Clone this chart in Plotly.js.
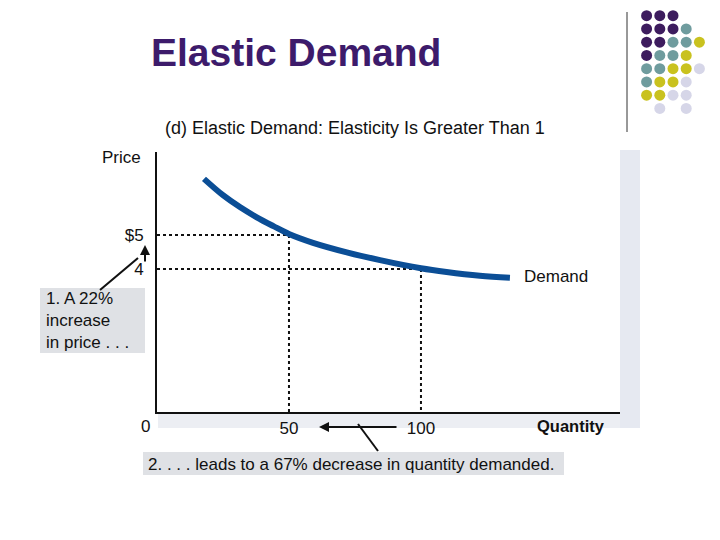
<!DOCTYPE html>
<html>
<head>
<meta charset="utf-8">
<script src="https://cdn.plot.ly/plotly-3.0.1.min.js"></script>
<style>html,body{margin:0;padding:0;background:#fff;}#chart{width:720px;height:540px;}</style>
</head>
<body>
<div id="chart"></div>
<script>
// ---- data ----
const demandQ = [17.8, 25.0, 31.4, 37.8, 44.1, 50.0, 59.1, 71.9, 84.5, 100.0, 109.7, 122.3, 133.7];
const demandP = [6.65, 6.17, 5.82, 5.52, 5.26, 5.03, 4.77, 4.49, 4.26, 4.02, 3.91, 3.80, 3.74];
const refQ = [50, 100];
const refP = [5, 4];
const xTickVals = [50, 100];
const xTickText = ["50", "100"];
const yTickVals = [5, 4];
const yTickText = ["$5", "4"];

// decorative dot grid (row, col, colour key)
const dotRows = [0,0,0, 1,1,1,1, 2,2,2,2,2, 3,3,3,3, 4,4,4,4,4, 5,5,5,5, 6,6,6,6, 7,7];
const dotCols = [0,1,2, 0,1,2,3, 0,1,2,3,4, 0,1,2,3, 0,1,2,3,4, 0,1,2,3, 0,1,2,3, 1,3];
const dotKeys = ["P","P","P", "P","P","P","T", "P","P","T","T","Y", "P","T","T","Y",
                 "T","T","Y","Y","L", "T","Y","Y","L", "Y","Y","L","L", "L","L"];
const dotPalette = {P: "#3d1c5e", T: "#6f9c9e", Y: "#c9c21f", L: "#d6d6e8"};

// ---- layout helpers (pixel -> paper) ----
const W = 720, H = 540;
const px = v => v / W;
const py = v => 1 - v / H;
const yMin = -0.206, yMax = 7.44;
const FONT = "Liberation Sans, Arial, sans-serif";
const FS = 17;

const traces = [];
// reference dotted lines
refQ.forEach((q, i) => {
  traces.push({
    x: [0, q, q], y: [refP[i], refP[i], yMin],
    mode: "lines", type: "scatter",
    line: {color: "#111", width: 2, dash: "dot"},
    hoverinfo: "skip", showlegend: false, cliponaxis: false
  });
});
// demand curve
traces.push({
  x: demandQ, y: demandP, mode: "lines", type: "scatter",
  line: {color: "#0b4e96", width: 6, shape: "spline", smoothing: 1},
  showlegend: false
});
// dot grid
traces.push({
  x: dotCols, y: dotRows, mode: "markers", type: "scatter",
  xaxis: "x2", yaxis: "y2",
  marker: {size: 11, color: dotKeys.map(k => dotPalette[k])},
  hoverinfo: "skip", showlegend: false
});

const shapes = [
  {type: "rect", xref: "paper", yref: "paper", x0: px(620), x1: px(640), y0: py(428), y1: py(150),
   fillcolor: "#e6e9f1", line: {width: 0}, layer: "below"},
  {type: "rect", xref: "paper", yref: "paper", x0: px(158), x1: px(620), y0: py(428), y1: py(412),
   fillcolor: "#eceef3", line: {width: 0}, layer: "below"},
  {type: "rect", xref: "paper", yref: "paper", x0: px(40), x1: px(145), y0: py(353), y1: py(288),
   fillcolor: "#dfe1e5", line: {width: 0}},
  {type: "rect", xref: "paper", yref: "paper", x0: px(143), x1: px(564), y0: py(475), y1: py(452),
   fillcolor: "#dfe1e5", line: {width: 0}},
  {type: "line", xref: "paper", yref: "paper", x0: px(100), y0: py(290), x1: px(138), y1: py(258),
   line: {color: "#111", width: 2}},
  {type: "line", xref: "paper", yref: "paper", x0: px(378), y0: py(451), x1: px(358), y1: py(424),
   line: {color: "#111", width: 2}},
  {type: "line", xref: "paper", yref: "paper", x0: px(627), y0: py(12), x1: px(627), y1: py(132),
   line: {color: "#333", width: 1}}
];

const ann = (x, y, text, opts = {}) => Object.assign({
  xref: "paper", yref: "paper", x: px(x), y: py(y), text: text, showarrow: false,
  xanchor: "center", yanchor: "middle",
  font: {family: FONT, size: FS, color: "#111"}
}, opts);

const annotations = [
  ann(296, 52, "<b>Elastic Demand</b>", {font: {family: FONT, size: 39, color: "#3d1b6b"}}),
  ann(355, 128, "(d) Elastic Demand: Elasticity Is Greater Than 1", {font: {family: FONT, size: 18, color: "#111"}}),
  ann(143, 157, "Price", {xanchor: "right"}),
  ann(607, 426, "<b>Quantity</b>", {xanchor: "right", font: {family: FONT, size: 16.5, color: "#111"}}),
  ann(522, 276, "Demand", {xanchor: "left"}),
  ann(145, 426, "0"),
  ann(44, 320, "1. A 22%<br>increase<br>in price . . .", {xanchor: "left", align: "left"}),
  ann(146, 464, "2. . . . leads to a 67% decrease in quantity demanded.", {xanchor: "left"}),
  {xref: "paper", yref: "paper", x: px(145), y: py(245), ax: px(145), ay: py(263), axref: "paper", ayref: "paper",
   showarrow: true, arrowhead: 2, arrowsize: 1, arrowwidth: 2, arrowcolor: "#111", text: ""},
  {xref: "paper", yref: "paper", x: px(319), y: py(427), ax: px(398), ay: py(427), axref: "paper", ayref: "paper",
   showarrow: true, arrowhead: 2, arrowsize: 1, arrowwidth: 2, arrowcolor: "#111", text: ""}
];

const layout = {
  width: W, height: H,
  margin: {l: 0, r: 0, t: 0, b: 0},
  paper_bgcolor: "#fff", plot_bgcolor: "#fff",
  showlegend: false,
  xaxis: {
    domain: [px(157), px(620)], range: [0, 175.4],
    showgrid: false, zeroline: false, showline: true, linecolor: "#111", linewidth: 2,
    tickvals: xTickVals, ticktext: xTickText, ticks: "", ticklabelstandoff: 0,
    tickfont: {family: FONT, size: FS, color: "#111"}, fixedrange: true
  },
  yaxis: {
    domain: [py(412), py(152)], range: [yMin, yMax],
    showgrid: false, zeroline: false, showline: true, linecolor: "#111", linewidth: 2,
    tickvals: yTickVals, ticktext: yTickText, ticks: "", ticklabelstandoff: 8,
    tickfont: {family: FONT, size: FS, color: "#111"}, fixedrange: true
  },
  xaxis2: {domain: [px(640), px(706)], range: [-0.5, 4.5], visible: false, anchor: "y2"},
  yaxis2: {domain: [py(115), py(9)], range: [7.5, -0.5], visible: false, anchor: "x2"},
  shapes: shapes,
  annotations: annotations
};

Plotly.newPlot("chart", traces, layout, {displayModeBar: false, staticPlot: true});
</script>
</body>
</html>
